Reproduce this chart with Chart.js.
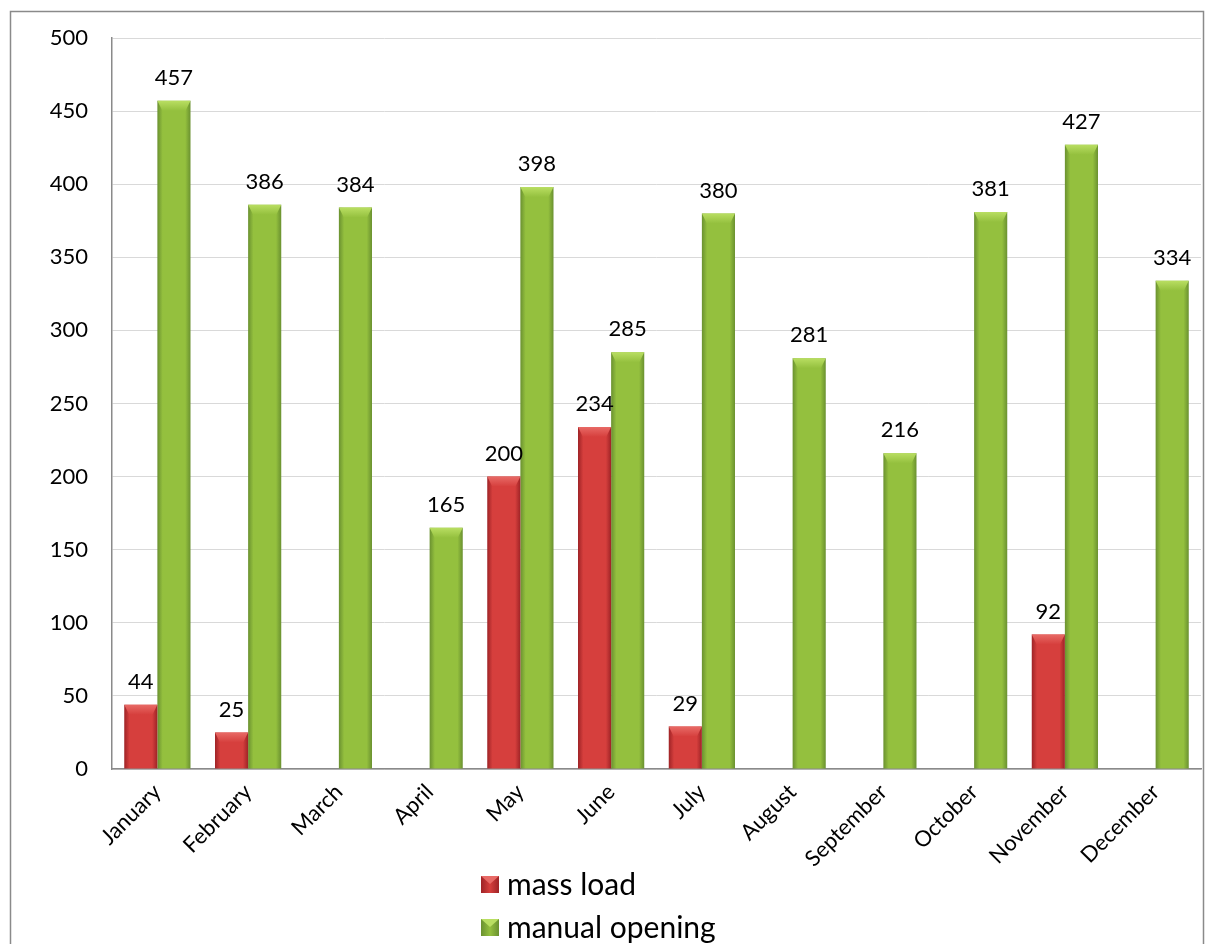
<!DOCTYPE html>
<html>
<head>
<meta charset="utf-8">
<script src="https://cdn.jsdelivr.net/npm/chart.js@4/dist/chart.umd.min.js"></script>
<style>
  html, body { margin: 0; padding: 0; background: #fff; }
  #wrap { width: 1208px; height: 944px; position: relative; }
</style>
</head>
<body>
<div id="wrap"><canvas id="myChart" width="1208" height="944"></canvas></div>
<script>
let months = ['January', 'February', 'March', 'April', 'May', 'June',
              'July', 'August', 'September', 'October', 'November', 'December'];
let massLoad = [44, 25, null, null, 200, 234, 29, null, null, null, 92, null];
let manualOpening = [457, 386, 384, 165, 398, 285, 380, 281, 216, 381, 427, 334];
let seriesNames = ['mass load', 'manual opening'];

let yMin = 0, yMax = 500, yStep = 50;
let catPct = 0.73;

// colours: [edge, centre, top]
let reds = ['#9e2326', '#d63f3d', '#e86a66'];
let greens = ['#6a9130', '#94c03e', '#b9de62'];

function barFill(ctx, cols) {
    let chart = ctx.chart;
    let xs = chart.scales.x;
    if (!xs || !chart.chartArea) return cols[1];
    let c = xs.getPixelForValue(ctx.dataIndex);
    let catW = xs.width / months.length;
    let bw = catW * catPct / 2;
    let left = c - catW * catPct / 2 + ctx.datasetIndex * bw;
    let g = chart.ctx.createLinearGradient(left, 0, left + bw, 0);
    g.addColorStop(0, cols[0]);
    g.addColorStop(0.16, cols[1]);
    g.addColorStop(0.5, cols[1]);
    g.addColorStop(0.84, cols[1]);
    g.addColorStop(1, cols[0]);
    return g;
}

let frame = {
    id: 'frame',
    beforeDraw(chart) {
        let c = chart.ctx;
        c.save();
        c.fillStyle = '#fff';
        c.fillRect(0, 0, chart.width, chart.height);
        c.strokeStyle = '#8a8a8a';
        c.lineWidth = 1.5;
        c.strokeRect(10.5, 11.5, chart.width - 15, chart.height + 20);
        c.restore();
    }
};

let barDeco = {
    id: 'barDeco',
    afterDatasetsDraw(chart) {
        let c = chart.ctx;
        c.save();
        chart.data.datasets.forEach(function(ds, di) {
            let cols = di === 0 ? reds : greens;
            chart.getDatasetMeta(di).data.forEach(function(bar, i) {
                if (ds.data[i] == null) return;
                let l = bar.x - bar.width / 2, r = bar.x + bar.width / 2;
                let h = Math.min(10, bar.base - bar.y);
                // top bevel
                let g = c.createLinearGradient(0, bar.y, 0, bar.y + h);
                g.addColorStop(0, cols[2]);
                g.addColorStop(1, cols[1]);
                c.fillStyle = g;
                c.beginPath();
                c.moveTo(l, bar.y);
                c.lineTo(r, bar.y);
                c.lineTo(r - 5, bar.y + h);
                c.lineTo(l + 5, bar.y + h);
                c.closePath();
                c.fill();
                // value label
                c.fillStyle = '#000';
                c.font = '22px Lato';
                c.textAlign = 'center';
                c.textBaseline = 'bottom';
                c.fillText(String(ds.data[i]), bar.x, bar.y - 12);
            });
        });
        c.restore();
    }
};

let legendBox = {
    id: 'legendBox',
    afterDraw(chart) {
        let c = chart.ctx;
        c.save();
        c.font = '30px Lato';
        c.textBaseline = 'middle';
        c.textAlign = 'left';
        let left = 481;
        let rows = [884, 927];
        chart.data.datasets.forEach(function(ds, di) {
            let cols = di === 0 ? reds : greens;
            let y = rows[di];
            let g = c.createLinearGradient(left, 0, left + 18, 0);
            g.addColorStop(0, cols[0]);
            g.addColorStop(0.5, cols[1]);
            g.addColorStop(1, cols[0]);
            c.fillStyle = g;
            c.fillRect(left, y - 8, 18, 17);
            c.fillStyle = cols[2];
            c.beginPath();
            c.moveTo(left, y - 8);
            c.lineTo(left + 18, y - 8);
            c.lineTo(left + 9, y);
            c.closePath();
            c.fill();
            c.fillStyle = '#000';
            c.fillText(ds.label, left + 26, y + 1);
        });
        c.restore();
    }
};

let chart1 = new Chart(document.getElementById('myChart').getContext('2d'), {
    type: 'bar',
    data: {
        labels: months,
        datasets: [{
            label: seriesNames[0],
            data: massLoad,
            backgroundColor: function(ctx) { return barFill(ctx, reds); }
        }, {
            label: seriesNames[1],
            data: manualOpening,
            backgroundColor: function(ctx) { return barFill(ctx, greens); }
        }]
    },
    options: {
        responsive: false,
        animation: false,
        layout: { padding: { left: 20, top: 38, right: 7, bottom: 0 } },
        datasets: {
            bar: { categoryPercentage: catPct, barPercentage: 1, skipNull: false }
        },
        plugins: {
            legend: { display: false },
            tooltip: { enabled: false }
        },
        scales: {
            x: {
                grid: { display: false },
                border: { color: '#8a8a8a', width: 1.5 },
                ticks: {
                    color: '#000',
                    font: { family: 'Lato', size: 22 },
                    minRotation: 45,
                    maxRotation: 45,
                    padding: 2
                },
                afterFit(scale) { scale.height = 175; }
            },
            y: {
                min: yMin,
                max: yMax,
                grid: { color: '#d9d9d9', drawTicks: false },
                border: { color: '#8a8a8a', width: 1.5 },
                ticks: {
                    stepSize: yStep,
                    color: '#000',
                    font: { family: 'Lato', size: 22 },
                    padding: 24
                },
                afterFit(scale) { scale.width = 92; }
            }
        }
    },
    plugins: [frame, barDeco, legendBox]
});
</script>
</body>
</html>
